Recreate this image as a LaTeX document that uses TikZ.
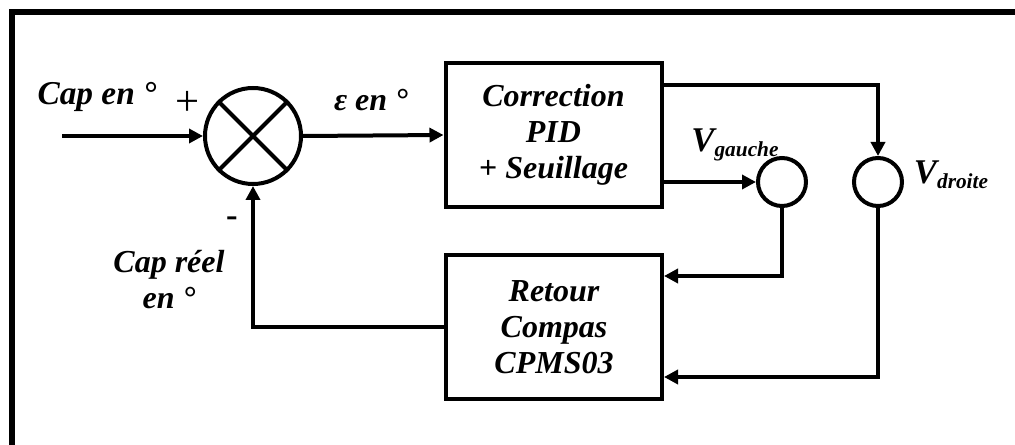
\documentclass[tikz,border=0pt]{standalone}
\usepackage{fontspec}
\setmainfont{Liberation Serif}
\usetikzlibrary{arrows.meta,calc}
\begin{document}
\begin{tikzpicture}[x=0.75pt,y=-0.75pt,
  every node/.style={font=\fontsize{24}{27}\selectfont\bfseries\itshape},
  blk/.style={draw,line width=3pt,minimum width=162pt,minimum height=108pt,align=center,inner sep=0pt},
  vcirc/.style={draw,circle,line width=3pt,minimum size=36pt,inner sep=0pt},
  conn/.style={line width=3pt,-{Triangle[length=10.5pt,width=10.5pt]}},
  lbl/.style={inner sep=0pt,align=center}]
\useasboundingbox (0,0) rectangle (1015,445);
% frame
\draw[line width=4.2pt] (12,445) -- (12,12) -- (1015,12);
% nodes
\node[draw,circle,line width=3pt,minimum size=72pt,inner sep=0pt] (sum) at (253,136) {};
\draw[line width=3pt] (sum.45) -- (sum.225) (sum.135) -- (sum.-45);
\coordinate (in) at (62,136);
\node[blk] (corr) at (553.5,135) {Correction\\PID\\\textup{+} Seuillage};
\node[blk] (ret) at (554,327) {Retour\\Compas\\CPMS03};
\node[vcirc] (vg) at (782,182) {};
\node[vcirc] (vd) at (878,182) {};
% connectors
\draw[conn] (in) -- (sum.west);
\draw[conn] (sum.east) -- (corr.west);
\draw[conn] ($(corr.north east)+(0,24)$) -| (vd.north);
\draw[conn] (corr.east |- vg.west) -- (vg.west);
\draw[conn] (vg.south) |- ($(ret.north east)+(0,23)$);
\draw[conn] (vd.south) |- ($(ret.south east)+(0,-24)$);
\draw[conn] (ret.west) -| (sum.south);
% labels
\node[lbl,font=\fontsize{25}{27}\selectfont\bfseries\itshape] (l1) at (97,97) {Cap en °};
\node[lbl,font=\fontsize{32}{32}\selectfont] (l2) at (188,103) {+};
\node[lbl,font=\fontsize{26}{26}\selectfont\bfseries] (l3) at (232,222) {-};
\node[lbl] (l4) at (169,280) {Cap réel\\en °};
\node[lbl] (l5) at (371,100) {ε en °};
\node[lbl,font=\fontsize{26}{26}\selectfont\bfseries\itshape] (l6) at (735,145) {V\raisebox{-0.3ex}{\fontsize{16}{16}\selectfont gauche}};
\node[lbl,font=\fontsize{26}{26}\selectfont\bfseries\itshape] (l7) at (951,175) {V\raisebox{-0.3ex}{\fontsize{16}{16}\selectfont droite}};
\end{tikzpicture}
\end{document}
